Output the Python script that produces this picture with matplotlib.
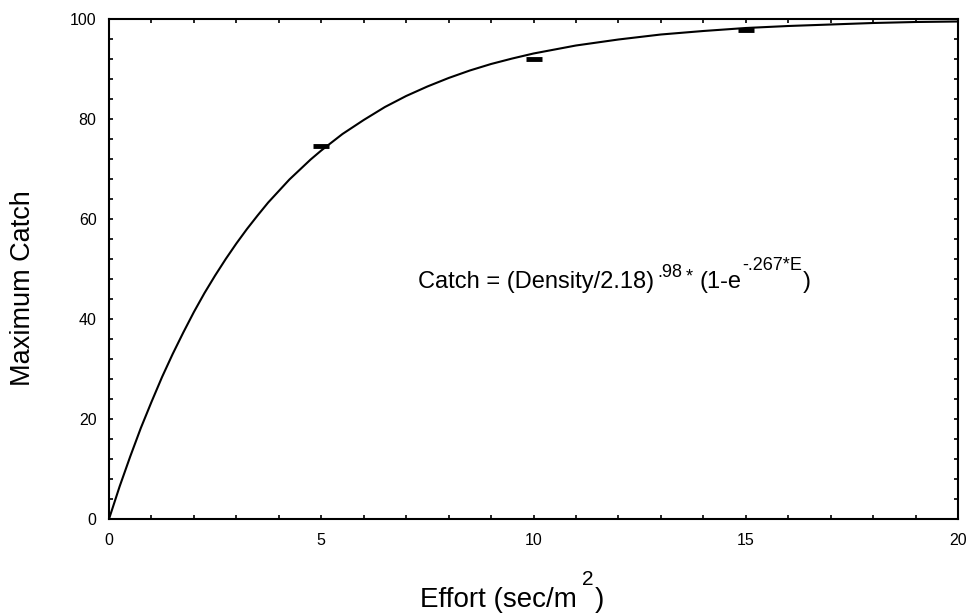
import numpy as np
import matplotlib
matplotlib.use("Agg")
import matplotlib.pyplot as plt
from matplotlib.ticker import MultipleLocator

plt.rcParams['font.family'] = ['Liberation Sans', 'DejaVu Sans']

# fitted curve
effort_curve = [0, 0.25, 0.5, 0.75, 1, 1.25, 1.5, 1.75, 2, 2.25, 2.5, 2.75, 3, 3.25,
                3.5, 3.75, 4, 4.25, 4.5, 4.75, 5, 5.5, 6, 6.5, 7, 7.5, 8, 8.5, 9,
                9.5, 10, 10.5, 11, 12, 13, 14, 15, 16, 17, 18, 19, 20]
catch_curve = [0, 6.5, 12.5, 18.2, 23.4, 28.4, 33.0, 37.3, 41.4, 45.2, 48.7, 52.0,
               55.1, 58.0, 60.7, 63.3, 65.6, 67.9, 69.9, 71.9, 73.7, 77.0, 79.8,
               82.4, 84.6, 86.5, 88.2, 89.7, 91.0, 92.1, 93.1, 93.9, 94.7, 95.9,
               96.9, 97.6, 98.2, 98.6, 98.9, 99.2, 99.4, 99.5]

# observed maxima
effort_obs = [5, 10, 15]
catch_obs = [74.6, 92.1, 97.9]

W, H = 971, 614
fig = plt.figure(figsize=(W / 100, H / 100), dpi=100)
ax = fig.add_axes([109 / W, 1 - 519 / H, 849 / W, 500 / H])

ax.plot(effort_curve, catch_curve, color='black', lw=1.5)
ax.plot(effort_obs, catch_obs, ls='none', marker='_', ms=12, mew=3.5, color='black')

ax.set_xlim(0, 20)
ax.set_ylim(0, 100)
ax.xaxis.set_major_locator(MultipleLocator(5))
ax.xaxis.set_minor_locator(MultipleLocator(1))
ax.yaxis.set_major_locator(MultipleLocator(20))
ax.yaxis.set_minor_locator(MultipleLocator(4))
ax.tick_params(which='both', direction='in', top=True, right=True,
               labelsize=11.5, width=1.2, length=3)
ax.tick_params(axis='x', which='major', pad=10)
ax.tick_params(axis='y', which='major', pad=9)
for s in ax.spines.values():
    s.set_linewidth(1.5)

renderer = fig.canvas.get_renderer()


def put(x_px, base, txt, size):
    t = fig.text(x_px / W, 1 - base / H, txt, fontsize=size,
                 ha='left', va='baseline')
    return x_px + t.get_window_extent(renderer).width


# equation, written piece by piece so the exponents sit like the original
x = put(418, 288, 'Catch = (Density/2.18)', 17)
x = put(x + 3, 277, '.98', 13)
x = put(x + 4, 281, '*', 13)
x = put(x + 6, 288, '(1-e', 17)
x = put(x + 1, 270, '-.267*E', 13)
put(x + 1, 288, ')', 17)

# axis titles
x = put(420, 607, 'Effort (sec/m', 20)
x = put(x + 5, 585, '2', 15)
put(x + 1, 607, ')', 20)
fig.text(23 / W, 1 - 288 / H, 'Maximum Catch', fontsize=19.5, rotation=90,
         ha='center', va='center')

fig.savefig('out.png', dpi=100)
